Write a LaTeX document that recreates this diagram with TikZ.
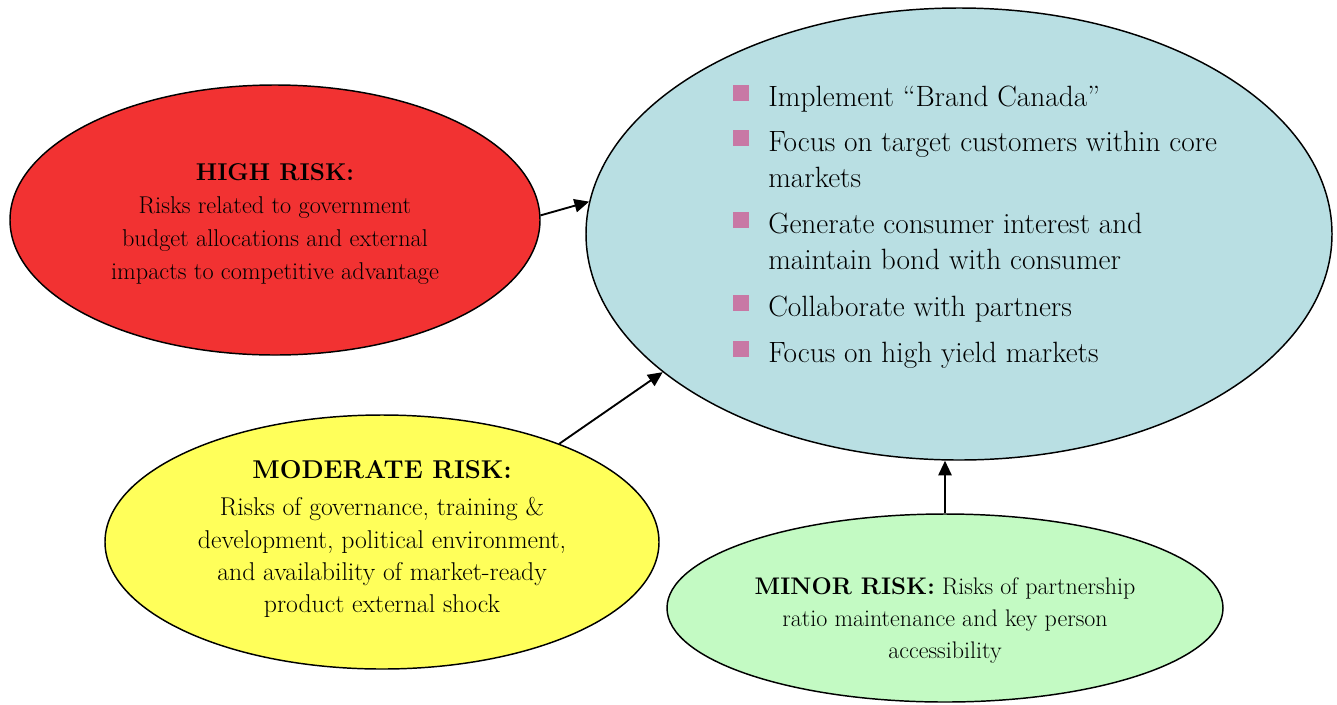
\documentclass[tikz,border=0pt]{standalone}
\usepackage{fontspec}
\usetikzlibrary{shapes.geometric,arrows.meta}
\definecolor{redfill}{RGB}{242,50,50}
\definecolor{bluefill}{RGB}{185,223,227}
\definecolor{yellowfill}{RGB}{255,255,90}
\definecolor{greenfill}{RGB}{195,250,195}
\definecolor{bulletfill}{RGB}{200,120,165}
\tikzset{
  blob/.style={draw=black, line width=1.1pt, ellipse, inner sep=0pt},
  txt/.style={align=center, inner sep=0pt},
  btxt/.style={font=\fontsize{22}{27}\selectfont, align=left, anchor=base west, inner sep=0pt},
  bul/.style={fill=bulletfill, minimum size=12pt, inner sep=0pt},
  conn/.style={line width=1.4pt, -{Triangle[length=11pt,width=10pt]}}
}
\begin{document}
\begin{tikzpicture}[x=0.75pt,y=-0.75pt]
\useasboundingbox (0,0) rectangle (1337,704);
% ellipses
\node[blob, fill=bluefill, minimum width=746*0.75pt, minimum height=452*0.75pt] (blue) at (959,234) {};
\node[blob, fill=redfill, minimum width=530*0.75pt, minimum height=270*0.75pt] (red) at (275,220) {};
\node[blob, fill=yellowfill, minimum width=554*0.75pt, minimum height=254*0.75pt] (yellow) at (382,542) {};
\node[blob, fill=greenfill, minimum width=556*0.75pt, minimum height=188*0.75pt] (green) at (945,608) {};
% texts
\node[txt, font=\fontsize{18.2}{24.75}\selectfont] (redtxt) at (275,224) {\textbf{HIGH RISK:}\\Risks related to government\\budget allocations and external\\impacts to competitive advantage};
\node[txt, font=\fontsize{19.3}{24.3}\selectfont] (yeltxt) at (382,539) {\textbf{MODERATE RISK:}\\[4pt]Risks of governance, training \&\\development, political environment,\\and availability of market-ready\\product external shock};
\node[txt, font=\fontsize{18}{24}\selectfont] (grntxt) at (945,620) {\textbf{MINOR RISK:} Risks of partnership\\ratio maintenance and key person\\accessibility};
% bullets
\node[bul] (b1) at (741,93) {};
\node[bul] (b2) at (741,138) {};
\node[bul] (b3) at (741,220) {};
\node[bul] (b4) at (741,303) {};
\node[bul] (b5) at (741,349) {};
\node[btxt] (t1) at (768,106) {Implement ``Brand Canada''};
\node[btxt] (t2) at (768,187) {Focus on target customers within core\\markets};
\node[btxt] (t3) at (768,269) {Generate consumer interest and\\maintain bond with consumer};
\node[btxt] (t4) at (768,316) {Collaborate with partners};
\node[btxt] (t5) at (768,362) {Focus on high yield markets};
% connectors
\draw[conn] (red.1) -- (blue.175);
\draw[conn] (yellow.29) -- (blue.205);
\draw[conn] (green.north) -- (green.north |- blue.south);
\end{tikzpicture}
\end{document}
